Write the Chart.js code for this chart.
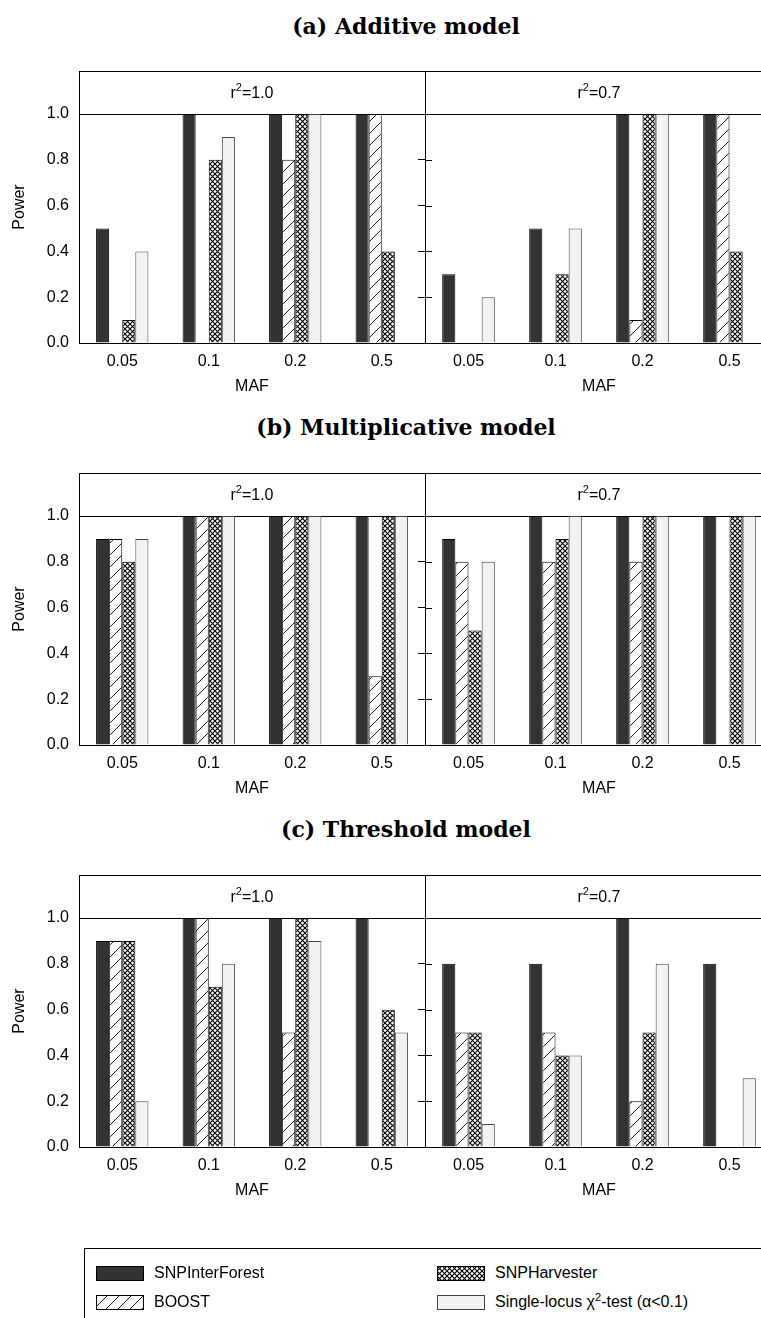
<!DOCTYPE html>
<html>
<head>
<meta charset="utf-8">
<script src="https://cdn.jsdelivr.net/npm/chart.js@4.4.1/dist/chart.umd.min.js"></script>
<style>
html, body { margin: 0; padding: 0; background: #fff; }
body { width: 761px; height: 1318px; overflow: hidden; position: relative; font-family: "Liberation Sans", Arial, sans-serif; }
.title { position: absolute; left: 206px; width: 400px; text-align: center; font: bold 22px "DejaVu Serif", serif; line-height: 24px; }
canvas.plot { position: absolute; }
#legend { position: absolute; left: 84px; top: 1248px; width: 720px; height: 120px; border-top: 1.5px solid #000; border-left: 1.5px solid #000; }
.item { position: absolute; display: flex; align-items: center; font-size: 16px; line-height: 18px; height: 18px; white-space: nowrap; }
.item span { margin-left: 10px; }
.item sup { font-size: 11px; line-height: 0; }
</style>
</head>
<body>
<div id="legend"></div>
<script>
const mafLabels = ['0.05', '0.1', '0.2', '0.5'];
const methodNames = ['SNPInterForest', 'BOOST', 'SNPHarvester', 'Single-locus χ²-test (α<0.1)'];
const yTickValues = [0, 0.2, 0.4, 0.6, 0.8, 1.0];
const stripLabels = ['1.0', '0.7'];   // r^2 of the two sub panels
const panelTitles = ['(a) Additive model', '(b) Multiplicative model', '(c) Threshold model'];

// rows: SNPInterForest, BOOST, SNPHarvester, single-locus ; columns: MAF
const additiveR10 = [
  [0.5, 1.0, 1.0, 1.0],
  [0.0, 0.0, 0.8, 1.0],
  [0.1, 0.8, 1.0, 0.4],
  [0.4, 0.9, 1.0, 0.0]
];
const additiveR07 = [
  [0.3, 0.5, 1.0, 1.0],
  [0.0, 0.0, 0.1, 1.0],
  [0.0, 0.3, 1.0, 0.4],
  [0.2, 0.5, 1.0, 0.0]
];
const multiplicativeR10 = [
  [0.9, 1.0, 1.0, 1.0],
  [0.9, 1.0, 1.0, 0.3],
  [0.8, 1.0, 1.0, 1.0],
  [0.9, 1.0, 1.0, 1.0]
];
const multiplicativeR07 = [
  [0.9, 1.0, 1.0, 1.0],
  [0.8, 0.8, 0.8, 0.0],
  [0.5, 0.9, 1.0, 1.0],
  [0.8, 1.0, 1.0, 1.0]
];
const thresholdR10 = [
  [0.9, 1.0, 1.0, 1.0],
  [0.9, 1.0, 0.5, 0.0],
  [0.9, 0.7, 1.0, 0.6],
  [0.2, 0.8, 0.9, 0.5]
];
const thresholdR07 = [
  [0.8, 0.8, 1.0, 0.8],
  [0.5, 0.5, 0.2, 0.0],
  [0.5, 0.4, 0.5, 0.0],
  [0.1, 0.4, 0.8, 0.3]
];

const panels = [
  [additiveR10, additiveR07],
  [multiplicativeR10, multiplicativeR07],
  [thresholdR10, thresholdR07]
];

const FONT = '"Liberation Sans", Arial, sans-serif';
const boxTops = [71, 473, 875];
const PAD_TOP = 12;
const AREA_H = 272;    // strip + plot height
const XAXIS_H = 55;
const Y_MAX = 1.188;   // room for the strip above 1.0

// fill patterns
function hatch(ctx) {
  const c = document.createElement('canvas');
  c.width = 12; c.height = 12;
  const g = c.getContext('2d');
  g.fillStyle = '#fff'; g.fillRect(0, 0, 12, 12);
  g.strokeStyle = '#000'; g.lineWidth = 0.9;
  g.beginPath();
  g.moveTo(0, 12); g.lineTo(12, 0);
  g.moveTo(-3, 3); g.lineTo(3, -3);
  g.moveTo(9, 15); g.lineTo(15, 9);
  g.stroke();
  return ctx.createPattern(c, 'repeat');
}
function crossHatch(ctx) {
  const c = document.createElement('canvas');
  c.width = 5; c.height = 5;
  const g = c.getContext('2d');
  g.fillStyle = '#fff'; g.fillRect(0, 0, 5, 5);
  g.strokeStyle = '#000'; g.lineWidth = 1.1;
  g.beginPath();
  g.moveTo(0, 0); g.lineTo(5, 5);
  g.moveTo(0, 5); g.lineTo(5, 0);
  g.stroke();
  return ctx.createPattern(c, 'repeat');
}
function fillsFor(ctx) {
  return ['#333333', hatch(ctx), crossHatch(ctx), '#f2f2f2'];
}
const borderColors = ['#000', '#000', '#000', '#444'];

// strip box, r^2 label and the inner tick marks on the divider
const stripPlugin = {
  id: 'strip',
  afterDraw(chart, args, opts) {
    const { ctx, chartArea: a } = chart;
    const y = chart.scales.y;
    ctx.save();
    ctx.strokeStyle = '#000';
    ctx.lineWidth = 1;
    const top = Math.round(a.top) + 0.5;
    ctx.beginPath();
    ctx.moveTo(a.left, top); ctx.lineTo(a.right, top);
    if (opts.innerTicks) {
      [0.2, 0.4, 0.6, 0.8].forEach(v => {
        const py = Math.round(y.getPixelForValue(v)) + 0.5;
        ctx.moveTo(a.left, py); ctx.lineTo(a.left + 7, py);
      });
    }
    ctx.stroke();

    const cx = (a.left + a.right) / 2;
    const cy = (a.top + y.getPixelForValue(1)) / 2;
    ctx.fillStyle = '#000';
    ctx.textBaseline = 'middle';
    ctx.textAlign = 'left';
    ctx.font = '16px ' + FONT;
    const wR = ctx.measureText('r').width;
    const rest = '=' + opts.label;
    const wRest = ctx.measureText(rest).width;
    ctx.font = '11px ' + FONT;
    const w2 = ctx.measureText('2').width;
    let x = cx - (wR + w2 + wRest) / 2;
    ctx.font = '16px ' + FONT;
    ctx.fillText('r', x, cy + 1);
    ctx.font = '11px ' + FONT;
    ctx.fillText('2', x + wR, cy - 5);
    ctx.font = '16px ' + FONT;
    ctx.fillText(rest, x + wR + w2, cy + 1);
    ctx.restore();
  }
};

function makeChart(left, top, width, values, isLeft, label) {
  const canvas = document.createElement('canvas');
  canvas.className = 'plot';
  const height = PAD_TOP + AREA_H + XAXIS_H;
  canvas.width = width; canvas.height = height;
  canvas.style.left = left + 'px';
  canvas.style.top = (top - PAD_TOP) + 'px';
  canvas.style.width = width + 'px';
  canvas.style.height = height + 'px';
  document.body.appendChild(canvas);
  const ctx = canvas.getContext('2d');
  const fills = fillsFor(ctx);

  const stripLine = c => (c.tick && c.tick.value === 1) ? '#000' : 'rgba(0,0,0,0)';

  return new Chart(ctx, {
    type: 'bar',
    data: {
      labels: mafLabels,
      datasets: methodNames.map((name, i) => ({
        label: name,
        data: values[i],
        backgroundColor: fills[i],
        borderColor: borderColors[i],
        borderWidth: 1,
        borderSkipped: 'bottom',
        barPercentage: 1,
        categoryPercentage: 0.605
      }))
    },
    plugins: [stripPlugin],
    options: {
      responsive: false,
      animation: false,
      layout: { padding: { top: PAD_TOP, left: 0, right: 0, bottom: 0 } },
      plugins: {
        legend: { display: false },
        tooltip: { enabled: false },
        strip: { label: label, innerTicks: !isLeft }
      },
      scales: {
        x: {
          grid: { display: true, drawTicks: false, color: 'rgba(0,0,0,0)' },
          border: { display: true, color: '#000', width: 1 },
          ticks: { color: '#000', font: { size: 16, family: FONT }, padding: 9, maxRotation: 0 },
          title: { display: true, text: 'MAF', color: '#000', font: { size: 16, family: FONT }, padding: { top: 0, bottom: 2 } },
          afterFit: s => { s.height = XAXIS_H; }
        },
        y: {
          min: 0,
          max: Y_MAX,
          afterBuildTicks: s => { s.ticks = yTickValues.map(v => ({ value: v })); },
          grid: isLeft
            ? { drawTicks: true, tickLength: 10, tickColor: 'rgba(0,0,0,0)', color: stripLine, lineWidth: 1 }
            : { drawTicks: true, tickLength: 7, tickColor: '#000', color: stripLine, lineWidth: 1 },
          border: { display: true, color: '#000', width: 1 },
          ticks: {
            display: isLeft,
            color: '#000',
            font: { size: 16, family: FONT },
            padding: 0,
            callback: v => Number(v).toFixed(1)
          },
          title: {
            display: isLeft,
            text: 'Power',
            color: '#000',
            font: { size: 16, family: FONT },
            padding: { top: 10, bottom: 0 }
          },
          afterFit: s => { s.width = isLeft ? 79 : 10; }
        }
      }
    }
  });
}

const titleCenters = [26, 427, 829];
panels.forEach((pair, p) => {
  const t = document.createElement('div');
  t.className = 'title';
  t.style.top = (titleCenters[p] - 12) + 'px';
  t.textContent = panelTitles[p];
  document.body.appendChild(t);

  makeChart(0, boxTops[p], 425, pair[0], true, stripLabels[0]);
  makeChart(415, boxTops[p], 358, pair[1], false, stripLabels[1]);
});

// legend
const legend = document.getElementById('legend');
const legendPos = [[11, 15], [11, 44], [352, 15], [352, 44]];
methodNames.forEach((name, i) => {
  const item = document.createElement('div');
  item.className = 'item';
  item.style.left = legendPos[i][0] + 'px';
  item.style.top = legendPos[i][1] + 'px';
  const sw = document.createElement('canvas');
  sw.width = 48; sw.height = 15;
  const g = sw.getContext('2d');
  g.fillStyle = fillsFor(g)[i];
  g.fillRect(0, 0, 48, 15);
  g.strokeStyle = borderColors[i];
  g.lineWidth = 1;
  g.strokeRect(0.5, 0.5, 47, 14);
  item.appendChild(sw);
  const span = document.createElement('span');
  if (i === 3) {
    span.innerHTML = 'Single-locus χ<sup>2</sup>-test (α&lt;0.1)';
  } else {
    span.textContent = name;
  }
  item.appendChild(span);
  legend.appendChild(item);
});
</script>
</body>
</html>
